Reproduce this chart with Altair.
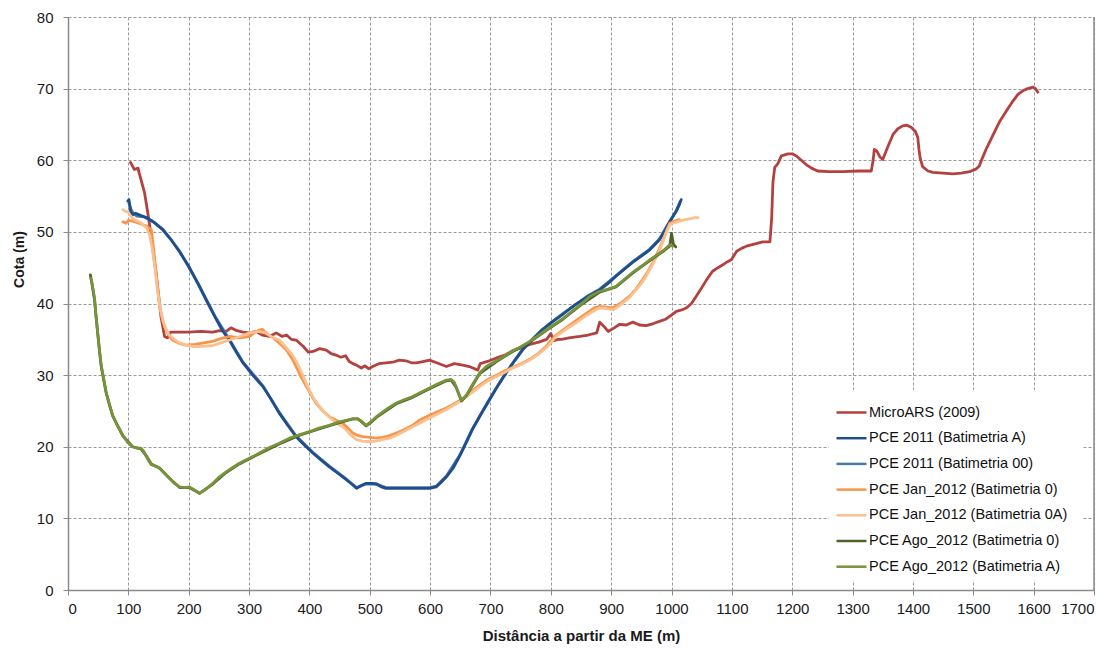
import altair as alt
import pandas as pd

# ---------------- data ----------------
series_names = [
    "MicroARS (2009)",
    "PCE 2011 (Batimetria  A)",
    "PCE 2011 (Batimetria  00)",
    "PCE Jan_2012  (Batimetria  0)",
    "PCE Jan_2012  (Batimetria  0A)",
    "PCE Ago_2012 (Batimetria 0)",
    "PCE Ago_2012 (Batimetria A)",
]
series_colors = ["#B2413F", "#1F4E8B", "#4A78AC", "#F7954A", "#FAC08F", "#4F6228", "#77933C"]
draw_order = [0, 2, 1, 3, 4, 5, 6]

micro_x = [103.6, 110, 116, 118, 127, 134, 146, 154, 160, 165, 170, 180, 200, 220, 240, 251, 262, 270, 280, 290,
           301, 312, 322, 334, 345, 355, 362, 370, 378, 390, 398, 406, 417, 428, 436, 444, 452, 460, 466, 472,
           478, 486, 492, 498, 505, 515, 527, 538, 549, 560, 570, 577, 588, 599, 612, 627, 640, 654, 665, 679,
           683, 687, 698, 710, 724, 737, 750, 765, 780, 793, 800, 805, 812, 818, 830, 848, 862, 876, 881, 888,
           895, 905, 914, 925, 936, 947, 958, 970, 980, 990, 997, 1008, 1017, 1025, 1033, 1041, 1050, 1058, 1068, 1077,
           1085, 1092, 1099, 1108, 1116, 1124, 1137, 1151, 1163, 1166, 1168, 1171, 1176, 1182, 1193, 1200, 1207, 1215, 1223, 1232,
           1242, 1260, 1284, 1310, 1331, 1334, 1336, 1340, 1345, 1350, 1358, 1367, 1375, 1383, 1390, 1397, 1404, 1408, 1410, 1412,
           1416, 1425, 1433, 1450, 1466, 1480, 1494, 1505, 1510, 1515, 1521, 1532, 1543, 1555, 1566, 1574, 1582, 1590, 1599, 1603, 1607]
micro_y = [59.7, 58.7, 58.9, 58.2, 55.4, 51.7, 44.2, 38.2, 35.4, 35.2, 36.0, 36.0, 36.0, 36.1, 36.0, 36.2, 36.1, 36.6, 36.2, 36.0,
           35.9, 36.1, 35.6, 35.4, 35.9, 35.4, 35.6, 35.0, 34.9, 34.0, 33.2, 33.3, 33.7, 33.5, 33.0, 32.8, 32.5, 32.7, 31.9, 31.6,
           31.4, 31.0, 31.3, 30.9, 31.2, 31.6, 31.7, 31.8, 32.1, 32.0, 31.7, 31.7, 31.9, 32.1, 31.7, 31.2, 31.6, 31.4, 31.2, 30.7,
           31.6, 31.7, 32.0, 32.4, 32.8, 33.4, 33.8, 34.3, 34.6, 35.0, 35.8, 34.8, 35.0, 35.0, 35.2, 35.4, 35.6, 35.9, 37.4, 36.8,
           36.1, 36.6, 37.1, 37.0, 37.4, 37.0, 36.9, 37.2, 37.5, 37.8, 38.2, 38.9, 39.1, 39.4, 40.0, 41.0, 42.2, 43.3, 44.5, 45.0,
           45.4, 45.8, 46.1, 47.3, 47.7, 48.0, 48.3, 48.6, 48.6, 52.0, 56.9, 59.0, 59.5, 60.6, 60.9, 60.9, 60.6, 60.0, 59.4, 58.9,
           58.5, 58.4, 58.4, 58.5, 58.5, 60.0, 61.5, 61.3, 60.5, 60.1, 61.8, 63.6, 64.4, 64.8, 64.9, 64.6, 64.0, 63.2, 61.5, 60.3,
           59.1, 58.5, 58.3, 58.2, 58.1, 58.2, 58.4, 58.8, 59.2, 60.3, 61.5, 63.4, 65.3, 66.9, 68.3, 69.2, 69.7, 70.0, 70.2, 70.0, 69.5]

pce11a_x = [99, 101, 104, 107, 112, 120, 130, 143, 157, 170, 185, 200, 215, 230, 245, 256, 268, 279, 290, 305,
            323, 336, 350, 364, 378, 392, 406, 420, 433, 447, 461, 470, 478, 486, 494, 503, 511, 519, 527, 560,
            599, 610, 618, 627, 638, 649, 660, 670, 684, 698, 712, 726, 740, 753, 770, 786, 800, 820, 840, 860,
            881, 895, 908, 922, 935, 950, 964, 980, 990, 997, 1003, 1008, 1013, 1016]
pce11a_y = [54.3, 54.5, 52.8, 52.4, 52.6, 52.3, 52.0, 51.3, 50.3, 49.0, 47.2, 45.2, 42.8, 40.3, 37.9, 36.2, 34.8, 33.2, 31.7, 30.1,
            28.4, 26.7, 24.7, 23.0, 21.4, 20.2, 19.1, 18.1, 17.2, 16.3, 15.4, 14.8, 14.2, 14.6, 14.9, 14.9, 14.8, 14.4, 14.2, 14.2,
            14.2, 14.4, 15.0, 15.8, 17.0, 18.7, 20.6, 22.4, 24.5, 26.5, 28.5, 30.3, 32.0, 33.5, 35.0, 36.3, 37.3, 38.5, 39.8, 40.9,
            41.9, 42.8, 43.8, 44.8, 45.7, 46.6, 47.5, 48.9, 50.3, 51.4, 52.2, 52.9, 53.8, 54.5]

pce11b_x = [101, 104, 108, 114, 125, 140, 157, 185, 215, 245, 268, 290, 323, 350, 378, 406, 433, 461, 478, 494,
            511, 527, 599, 610, 627, 649, 670, 698, 726, 753, 786, 820, 860, 881, 908, 935, 964, 980, 997, 1008, 1014]
pce11b_y = [54.0, 53.2, 52.6, 52.2, 52.1, 51.5, 50.4, 47.3, 42.9, 38.0, 34.9, 31.8, 28.5, 24.8, 21.5, 19.2, 17.3, 15.5, 14.3, 14.8,
            14.8, 14.3, 14.3, 14.5, 15.9, 18.8, 22.5, 26.6, 30.4, 33.6, 36.4, 38.6, 41.0, 42.0, 43.9, 45.8, 47.6, 49.0, 51.5, 53.0, 54.2]

jan0_x = [91, 96, 100, 107, 118, 130, 138, 142, 146, 149, 152, 156, 160, 166, 173, 185, 196, 210, 225, 239,
          253, 268, 285, 301, 310, 317, 322, 328, 340, 350, 362, 372, 378, 386, 395, 403, 411, 422, 433, 444,
          455, 464, 472, 480, 488, 500, 511, 520, 527, 544, 555, 571, 582, 599, 613, 627, 640, 654, 668, 682,
          696, 710, 724, 737, 751, 765, 779, 792, 800, 809, 825, 840, 860, 872, 881, 892, 903, 915, 930, 941,
          952, 961, 969, 978, 986, 992, 997, 1005, 1013]
jan0_y = [51.4, 51.2, 51.6, 51.5, 51.2, 50.8, 50.3, 47.5, 44.2, 41.8, 39.6, 37.9, 36.8, 35.7, 34.9, 34.4, 34.2, 34.3, 34.5, 34.7,
          35.1, 35.4, 35.2, 35.4, 36.0, 36.3, 36.4, 35.9, 35.2, 34.5, 33.5, 32.2, 31.2, 29.8, 28.4, 27.2, 26.1, 25.0, 24.2, 23.7,
          23.3, 22.6, 21.9, 21.6, 21.4, 21.3, 21.2, 21.3, 21.4, 21.9, 22.3, 23.0, 23.7, 24.4, 24.9, 25.4, 26.0, 26.7, 27.7, 28.6,
          29.4, 30.0, 30.6, 31.1, 31.6, 32.2, 33.0, 34.0, 34.8, 35.6, 36.6, 37.5, 38.7, 39.4, 39.6, 39.5, 39.4, 40.0, 41.0, 42.0,
          43.3, 44.5, 45.7, 47.3, 48.9, 50.2, 51.2, 51.5, 51.7]

jan0a_x = [91, 95, 99, 104, 110, 120, 130, 135, 140, 144, 148, 152, 157, 162, 168, 176, 185, 195, 206, 220,
           239, 253, 268, 285, 301, 315, 327, 338, 350, 360, 372, 380, 389, 398, 406, 414, 425, 436, 447, 458,
           468, 478, 488, 500, 511, 520, 533, 544, 558, 571, 585, 599, 613, 627, 641, 654, 668, 682, 696, 710,
           724, 737, 751, 765, 779, 792, 800, 809, 825, 840, 860, 872, 881, 892, 903, 912, 921, 930, 941, 952,
           961, 969, 978, 986, 992, 997, 1005, 1013, 1022, 1030, 1038, 1044]
jan0a_y = [53.1, 52.9, 52.8, 52.2, 51.7, 51.3, 50.6, 49.6, 47.5, 45.0, 42.0, 39.7, 37.7, 36.4, 35.6, 35.0, 34.5, 34.2, 34.0, 34.0,
           34.1, 34.5, 34.9, 35.4, 35.9, 36.1, 35.9, 35.3, 34.9, 34.0, 32.8, 31.6, 30.0, 28.2, 26.9, 25.9, 24.8, 23.9, 23.2, 22.6,
           21.7, 21.0, 20.8, 20.7, 20.8, 21.0, 21.2, 21.6, 22.2, 22.8, 23.4, 24.0, 24.6, 25.2, 25.9, 26.6, 27.5, 28.4, 29.2, 29.8,
           30.4, 31.0, 31.5, 32.1, 32.9, 33.8, 34.5, 35.4, 36.4, 37.2, 38.4, 39.0, 39.4, 39.3, 39.1, 39.6, 40.2, 40.8, 41.9, 43.0,
           44.3, 45.5, 47.0, 48.7, 50.1, 51.0, 51.3, 51.5, 51.7, 51.8, 52.0, 52.0]

ago0_x = [37, 40, 44, 49, 55, 63, 74, 91, 107, 121, 130, 138, 152, 168, 185, 201, 218, 240, 262, 284,
          312, 350, 384, 416, 447, 472, 480, 486, 494, 502, 511, 544, 571, 599, 627, 635, 643, 652, 660, 682,
          710, 737, 765, 792, 820, 850, 881, 908, 935, 964, 988, 997, 1000, 1003, 1007]
ago0_y = [44.0, 42.6, 40.5, 36.0, 31.2, 27.6, 24.3, 21.5, 20.0, 19.7, 18.7, 17.6, 17.0, 15.6, 14.3, 14.3, 13.5, 14.8, 16.4, 17.6,
          18.8, 20.4, 21.6, 22.5, 23.3, 23.9, 23.9, 23.5, 22.9, 23.4, 24.1, 26.0, 26.9, 28.1, 29.2, 29.3, 28.3, 26.4, 27.1, 30.2,
          31.9, 33.3, 34.6, 36.2, 37.8, 39.8, 41.6, 42.3, 44.2, 46.0, 47.4, 48.0, 49.8, 48.3, 47.9]

agoa_x = [38, 40, 44, 46, 49, 52, 55, 59, 63, 68, 74, 82, 91, 99, 107, 114, 121, 126, 130, 134,
          138, 145, 152, 160, 168, 176, 185, 193, 201, 209, 218, 229, 240, 251, 262, 273, 284, 298, 312, 334,
          350, 367, 384, 400, 416, 433, 447, 461, 472, 480, 486, 494, 502, 511, 527, 544, 558, 571, 585, 599,
          613, 627, 635, 640, 643, 648, 652, 656, 660, 671, 682, 693, 710, 724, 737, 751, 765, 779, 792, 806,
          820, 835, 850, 865, 881, 895, 908, 921, 935, 950, 964, 976, 988, 997, 1002]
agoa_y = [43.5, 42.8, 40.7, 38.5, 36.1, 33.5, 31.4, 29.6, 27.7, 26.0, 24.4, 22.9, 21.6, 20.6, 20.0, 19.8, 19.8, 19.3, 18.6, 18.0,
          17.5, 17.3, 17.0, 16.3, 15.6, 14.9, 14.4, 14.3, 14.4, 14.0, 13.5, 14.1, 14.9, 15.8, 16.5, 17.1, 17.7, 18.3, 18.9, 19.9,
          20.5, 21.2, 21.7, 22.1, 22.6, 23.0, 23.4, 23.7, 23.9, 23.9, 23.6, 23.0, 23.5, 24.2, 25.2, 26.1, 26.6, 27.0, 27.6, 28.2,
          28.8, 29.3, 29.4, 29.0, 28.4, 27.3, 26.5, 26.8, 27.2, 28.8, 30.3, 31.2, 32.0, 32.7, 33.4, 34.0, 34.7, 35.5, 36.3, 37.1,
          37.9, 38.9, 39.9, 41.0, 41.7, 42.0, 42.4, 43.3, 44.3, 45.2, 46.1, 46.8, 47.5, 48.2, 48.0]

x_ticks = list(range(0, 1701, 100))
y_ticks = list(range(0, 81, 10))

# ---------------- table ----------------
all_xy = [(micro_x, micro_y), (pce11a_x, pce11a_y), (pce11b_x, pce11b_y), (jan0_x, jan0_y),
          (jan0a_x, jan0a_y), (ago0_x, ago0_y), (agoa_x, agoa_y)]
rows = []
for rank, i in enumerate(draw_order):
    xs, ys = all_xy[i]
    for j, (xv, yv) in enumerate(zip(xs, ys)):
        rows.append({"serie": series_names[i], "camada": rank, "idx": j, "dist": xv, "cota": yv})
df = pd.DataFrame(rows)

FONT = "Liberation Sans"

x_scale = alt.Scale(domain=[0, 1700], nice=False, zero=False)
y_scale = alt.Scale(domain=[0, 80], nice=False)

lines = alt.Chart(df).mark_line(strokeWidth=2.8, strokeJoin="round", strokeCap="round").encode(
    x=alt.X("dist:Q", scale=x_scale,
            axis=alt.Axis(values=x_ticks, title="Distância a partir da ME (m)", format="d",
                          grid=True, gridDash=[3, 2], gridColor="#9a9a9a", gridWidth=1,
                          domainColor="#8a8a8a", domainWidth=1.5, tickColor="#8a8a8a", tickSize=5,
                          labelFont=FONT, labelFontSize=15, labelColor="#1a1a1a", labelPadding=6,
                          titleFont=FONT, titleFontSize=15, titleFontWeight="bold", titleColor="#1a1a1a",
                          titleBaseline="middle", titleY=45)),
    y=alt.Y("cota:Q", scale=y_scale,
            axis=alt.Axis(values=y_ticks, title="Cota (m)", format="d",
                          grid=True, gridDash=[3, 2], gridColor="#9a9a9a", gridWidth=1,
                          domainColor="#8a8a8a", domainWidth=1.5, tickColor="#8a8a8a", tickSize=5,
                          labelFont=FONT, labelFontSize=15, labelColor="#1a1a1a", labelPadding=10,
                          titleFont=FONT, titleFontSize=14, titleFontWeight="bold", titleColor="#1a1a1a",
                          titleAngle=-90, titleBaseline="middle", titleAlign="center", titleX=-49, titleY=242)),
    color=alt.Color("serie:N", scale=alt.Scale(domain=series_names, range=series_colors),
                    sort=series_names,
                    legend=alt.Legend(title=None, orient="none", legendX=761, legendY=373,
                                      fillColor="white", padding=6,
                                      symbolType="stroke", symbolSize=900, symbolStrokeWidth=2.5,
                                      labelFont=FONT, labelFontSize=14.5, labelColor="#111111",
                                      labelOffset=1, rowPadding=2.7, labelLimit=300)),
    order=alt.Order("idx:Q"),
    detail="camada:N",
)

border = alt.Chart(pd.DataFrame({"dist": [1700]})).mark_rule(color="#8a8a8a", strokeWidth=1.5).encode(
    x=alt.X("dist:Q", scale=x_scale),
    y=alt.value(0),
    y2=alt.value(573),
)

chart = alt.layer(lines, border).properties(
    width=1026, height=573,
    padding={"left": 68, "top": 17, "right": 22, "bottom": 58},
    autosize=alt.AutoSizeParams(type="none"),
    background="white",
).configure_view(stroke=None)

chart.save("out.html", embed_options={"renderer": "svg", "actions": False})
